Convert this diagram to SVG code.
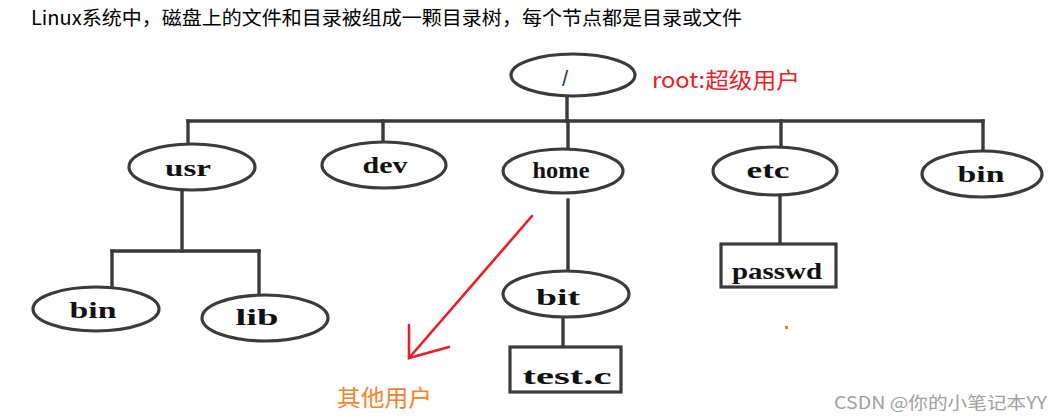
<svg xmlns="http://www.w3.org/2000/svg" width="1063" height="420" viewBox="0 0 1063 420">
<style>
.node{fill:#fff;stroke:#3a3a3a;stroke-width:3.2}
.lbl{font-family:"Liberation Serif","DejaVu Serif",serif;font-weight:bold;font-size:23px;fill:#111;text-anchor:middle}
.con{stroke:#3a3a3a;stroke-width:3.4;fill:none;stroke-linecap:square}
.cjk{font-family:"Noto Sans CJK SC","Noto Sans",sans-serif}
</style>
<defs>
<filter id="soft" x="-5%" y="-5%" width="110%" height="110%"><feGaussianBlur stdDeviation="0.7"/></filter>
</defs>
<rect width="1063" height="420" fill="#fff"/>
<text class="cjk" x="31" y="25" font-size="19.5" fill="#000" textLength="711" lengthAdjust="spacingAndGlyphs">Linux系统中，磁盘上的文件和目录被组成一颗目录树，每个节点都是目录或文件</text>

<g id="connectors" filter="url(#soft)">
<path class="con" d="M567 96 V121"/>
<path class="con" d="M188 121 H983"/>
<path class="con" d="M188 121 V145"/>
<path class="con" d="M383 121 V142"/>
<path class="con" d="M568 121 V148"/>
<path class="con" d="M781 121 V147"/>
<path class="con" d="M983 121 V151"/>
<path class="con" d="M182 192 V251"/>
<path class="con" d="M112 251 H259"/>
<path class="con" d="M112 251 V287"/>
<path class="con" d="M259 251 V295"/>
<path class="con" d="M568 200 V270"/>
<path class="con" d="M563 316 V347"/>
<path class="con" d="M780 194 V244"/>
</g>

<g id="n-root" filter="url(#soft)"><ellipse class="node" cx="573" cy="75" rx="62" ry="21"/></g>
<text x="565" y="86" font-family="Liberation Sans,sans-serif" font-size="22" fill="#1a3a6a" text-anchor="middle">/</text>

<g id="n-usr"><ellipse class="node" cx="192" cy="167" rx="63" ry="23" filter="url(#soft)"/><text class="lbl" x="188" y="176" textLength="46" lengthAdjust="spacingAndGlyphs">usr</text></g>
<g id="n-dev"><ellipse class="node" cx="384" cy="165" rx="62" ry="23" filter="url(#soft)"/><text class="lbl" x="385" y="173" textLength="45" lengthAdjust="spacingAndGlyphs">dev</text></g>
<g id="n-home"><ellipse class="node" cx="563" cy="171" rx="60" ry="22" filter="url(#soft)"/><text class="lbl" x="561" y="178" textLength="57" lengthAdjust="spacingAndGlyphs">home</text></g>
<g id="n-etc"><ellipse class="node" cx="775" cy="171" rx="62" ry="24" filter="url(#soft)"/><text class="lbl" x="768" y="178" textLength="43" lengthAdjust="spacingAndGlyphs">etc</text></g>
<g id="n-bin"><ellipse class="node" cx="982" cy="174" rx="60" ry="23" filter="url(#soft)"/><text class="lbl" x="981" y="182" textLength="47" lengthAdjust="spacingAndGlyphs">bin</text></g>
<g id="n-bin2"><ellipse class="node" cx="96" cy="309" rx="63" ry="22" filter="url(#soft)"/><text class="lbl" x="93" y="318" textLength="47" lengthAdjust="spacingAndGlyphs">bin</text></g>
<g id="n-lib"><ellipse class="node" cx="265" cy="318" rx="63" ry="23" filter="url(#soft)"/><text class="lbl" x="257" y="325" textLength="43" lengthAdjust="spacingAndGlyphs">lib</text></g>
<g id="n-bit"><ellipse class="node" cx="566" cy="294" rx="63" ry="23" filter="url(#soft)"/><text class="lbl" x="558" y="305" textLength="44" lengthAdjust="spacingAndGlyphs">bit</text></g>
<g id="n-passwd"><rect class="node" x="721" y="244" width="115" height="43" filter="url(#soft)"/><text class="lbl" x="777" y="279" textLength="90" lengthAdjust="spacingAndGlyphs">passwd</text></g>
<g id="n-testc"><rect class="node" x="510" y="347" width="111" height="45" filter="url(#soft)"/><text class="lbl" x="567" y="384" textLength="89" lengthAdjust="spacingAndGlyphs">test.c</text></g>

<text class="cjk" x="652" y="88" font-size="22" fill="#ee1c25" textLength="148" lengthAdjust="spacingAndGlyphs">root:超级用户</text>

<g id="arrow" stroke="#ea1c24" stroke-width="2.6" fill="none" stroke-linecap="round">
<path d="M532 216 L409 358"/>
<path d="M409 325 L409 358 L449 347"/>
</g>
<text class="cjk" x="337" y="406" font-size="23" fill="#f5822a" textLength="95" lengthAdjust="spacingAndGlyphs">其他用户</text>
<rect x="785" y="326" width="3" height="3" fill="#f57f20"/>
<text class="cjk" x="834" y="409" font-size="17" fill="#a0a0a0" textLength="213" lengthAdjust="spacingAndGlyphs">CSDN @你的小笔记本YY</text>
</svg>
